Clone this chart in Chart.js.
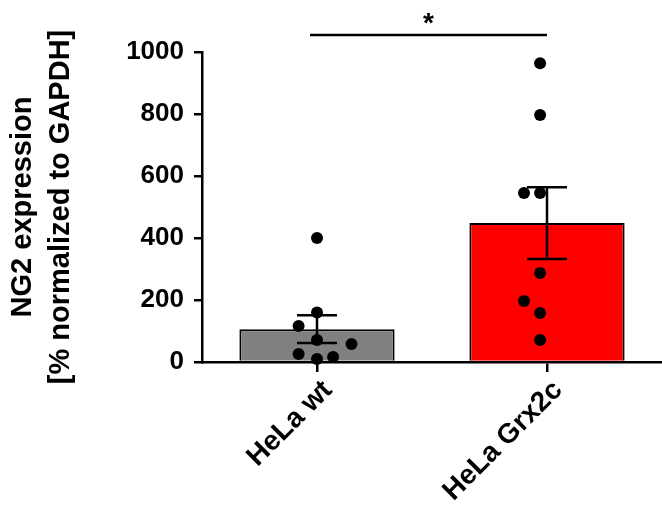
<!DOCTYPE html>
<html>
<head>
<meta charset="utf-8">
<script src="https://cdn.jsdelivr.net/npm/chart.js@4/dist/chart.umd.min.js"></script>
<style>
  html, body { margin: 0; padding: 0; background: #fff; }
</style>
</head>
<body>
<canvas id="chart" width="662" height="506"></canvas>
<script>
const groups = ['HeLa wt', 'HeLa Grx2c'];
const means = [106, 448];
const sems = [45, 116];
const wtPoints = [400, 160, 116, 71, 58, 26, 10, 16];
const grxPoints = [964, 797, 545, 545, 287, 197, 158, 71];
// horizontal scatter of the dots, in category widths
const wtJitter = [0, 0, -0.08, 0, 0.15, -0.08, 0, 0.07];
const grxJitter = [-0.03, -0.03, -0.1, -0.03, -0.03, -0.1, -0.03, -0.03];
const yTicks = [0, 200, 400, 600, 800, 1000];
const sigLevel = 1055;
const sigLabel = '*';

const family = "'Liberation Sans', Arial, sans-serif";

const dots = [
  ...wtPoints.map((v, i) => ({ x: 0 + wtJitter[i], y: v })),
  ...grxPoints.map((v, i) => ({ x: 1 + grxJitter[i], y: v }))
];

const errorBars = {
  id: 'errorBars',
  afterDatasetDraw(chart, args) {
    if (args.index !== 1) return;
    const ctx = chart.ctx;
    const x = chart.scales.x, y = chart.scales.y;
    ctx.save();
    ctx.strokeStyle = '#000';
    ctx.lineWidth = 2.5;
    means.forEach((m, i) => {
      const cx = x.getPixelForValue(i);
      const top = y.getPixelForValue(m + sems[i]);
      const bot = y.getPixelForValue(m - sems[i]);
      ctx.beginPath();
      ctx.moveTo(cx, top); ctx.lineTo(cx, bot);
      ctx.moveTo(cx - 20, top); ctx.lineTo(cx + 20, top);
      ctx.moveTo(cx - 20, bot); ctx.lineTo(cx + 20, bot);
      ctx.stroke();
    });
    ctx.restore();
  },
  afterDraw(chart) {
    const ctx = chart.ctx;
    const x = chart.scales.x, y = chart.scales.y;
    const x0 = x.getPixelForValue(0) - 7;
    const x1 = x.getPixelForValue(1);
    const sy = y.getPixelForValue(sigLevel);
    ctx.save();
    ctx.strokeStyle = '#000';
    ctx.lineWidth = 2.5;
    ctx.beginPath();
    ctx.moveTo(x0, sy); ctx.lineTo(x1, sy);
    ctx.stroke();
    ctx.fillStyle = '#000';
    ctx.font = 'bold 28px ' + family;
    ctx.textAlign = 'center';
    ctx.textBaseline = 'alphabetic';
    ctx.fillText(sigLabel, (x0 + x1) / 2, sy - 3);
    ctx.restore();
  }
};

new Chart(document.getElementById('chart'), {
  type: 'bar',
  data: {
    labels: groups,
    datasets: [
      {
        type: 'scatter',
        data: dots,
        xAxisID: 'xDots',
        backgroundColor: '#000',
        borderWidth: 0,
        pointRadius: 6,
        pointHoverRadius: 6,
        clip: false,
        order: 0
      },
      {
        data: means,
        backgroundColor: ['#808080', '#ff0000'],
        borderColor: '#000',
        borderWidth: 2,
        grouped: false,
        barPercentage: 0.675,
        categoryPercentage: 1,
        order: 1
      }
    ]
  },
  options: {
    responsive: false,
    animation: false,
    layout: { autoPadding: false, padding: { top: 52, right: 0, bottom: 0, left: 0 } },
    plugins: {
      legend: { display: false },
      tooltip: { enabled: false }
    },
    scales: {
      x: {
        type: 'category',
        offset: true,
        grid: {
          offset: false,
          drawOnChartArea: false,
          tickLength: 10,
          color: '#000',
          lineWidth: 2.5
        },
        border: { color: '#000', width: 2.5 },
        ticks: {
          color: '#000',
          minRotation: 45,
          maxRotation: 45,
          padding: 2,
          labelOffset: 11,
          font: { family: family, size: 28, weight: 'bold' }
        },
        afterFit: s => { s.height = 144; }
      },
      xDots: {
        type: 'linear',
        position: 'bottom',
        min: -0.5,
        max: 1.5,
        offset: false,
        display: false,
        grid: { offset: false }
      },
      y: {
        min: 0,
        max: 1000,
        afterBuildTicks: s => { s.ticks = yTicks.map(v => ({ value: v })); },
        grid: {
          drawOnChartArea: false,
          tickLength: 8,
          color: '#000',
          lineWidth: 2.5
        },
        border: { color: '#000', width: 2.5 },
        ticks: {
          color: '#000',
          padding: 10,
          callback: v => String(v),
          font: { family: family, size: 26, weight: 'bold' }
        },
        title: {
          display: true,
          text: ['NG2 expression', '[% normalized to GAPDH]'],
          color: '#000',
          padding: { top: 4, bottom: 0 },
          font: { family: family, size: 29, weight: 'bold', lineHeight: 1.3 }
        },
        afterFit: s => { s.width = 202; }
      }
    }
  },
  plugins: [errorBars]
});
</script>
</body>
</html>
